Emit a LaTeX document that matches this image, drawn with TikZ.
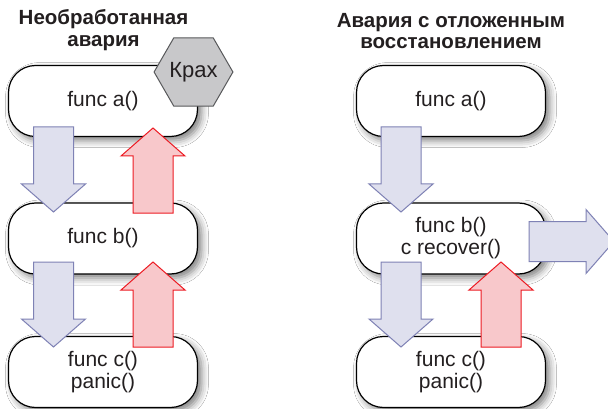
\documentclass[tikz,border=0pt]{standalone}
\usepackage{fontspec}
\setmainfont{Liberation Sans}
\usetikzlibrary{shapes.geometric,shadows.blur}

\definecolor{ink}{HTML}{231F20}
\definecolor{downfill}{HTML}{DFE0EE}
\definecolor{downline}{HTML}{7F82B5}
\definecolor{upfill}{HTML}{F8C8CB}
\definecolor{upline}{HTML}{ED1C24}
\definecolor{hexfill}{HTML}{C8C8CA}
\definecolor{hexline}{HTML}{58595B}

\tikzset{
  frame/.style={draw=black, line width=1.2pt, fill=white, rounded corners=27pt,
    minimum width=189pt, minimum height=71pt, align=center, text=ink,
    font=\fontsize{21}{22}\selectfont,
    blur shadow={shadow xshift=4pt, shadow yshift=-4pt, shadow blur radius=7pt, shadow opacity=50}},
  heading/.style={font=\bfseries\fontsize{20.5}{21.5}\selectfont, text=ink, align=center},
  crash/.style={regular polygon, regular polygon sides=6, minimum size=68pt, inner sep=0pt,
    fill=hexfill, draw=hexline, line width=1pt, text=ink, font=\fontsize{22}{22}\selectfont},
  callarrow/.style={fill=downfill, draw=downline, line width=1pt},
  unwindarrow/.style={fill=upfill, draw=upline, line width=1pt},
}

% block arrow of length 85 starting at #1, turned by #2 degrees
\newcommand{\blockarrow}[3]{%
  \begin{scope}[shift={(#1)}, rotate=#2]
    \draw[#3] (0,-20) -- (57,-20) -- (57,-32) -- (85,0) -- (57,32) -- (57,20) -- (0,20) -- cycle;
  \end{scope}}

\begin{document}
\begin{tikzpicture}[x=1pt,y=-1pt]
  \useasboundingbox (0,0) rectangle (608,409);
  \fill[white] (0,0) rectangle (608,409);
  \clip (0,0) rectangle (608,409);

  % unhandled panic
  \node[heading] (t1) at (103.5,30) {Необработанная\\авария};
  \node[frame] (a1) at (103,101) {func a()};
  \node[frame] (b1) at (103,238.5) {func b()};
  \node[frame] (c1) at (103,372) {func c()\\panic()};

  % panic with deferred recover
  \node[heading] (t2) at (451,31) {Авария с отложенным\\восстановлением};
  \node[frame] (a2) at (451,101) {func a()};
  \node[frame] (b2) at (451,238.5) {func b()\\c recover()};
  \node[frame] (c2) at (451,372) {func c()\\panic()};

  % arrow anchors
  \coordinate (ab1) at (53.5,127);
  \coordinate (bc1) at (53.5,262);
  \coordinate (ba1) at (153,213);
  \coordinate (cb1) at (153,347);
  \coordinate (ab2) at (401,127);
  \coordinate (bc2) at (401,262);
  \coordinate (cb2) at (501,347);
  \coordinate (out2) at (529,241.5);

  \blockarrow{ab1}{-90}{callarrow}
  \blockarrow{bc1}{-90}{callarrow}
  \blockarrow{ba1}{90}{unwindarrow}
  \blockarrow{cb1}{90}{unwindarrow}

  \blockarrow{ab2}{-90}{callarrow}
  \blockarrow{bc2}{-90}{callarrow}
  \blockarrow{cb2}{90}{unwindarrow}
  \blockarrow{out2}{0}{callarrow}

  \node[crash] (x1) at (193.5,72) {Крах};
\end{tikzpicture}
\end{document}
